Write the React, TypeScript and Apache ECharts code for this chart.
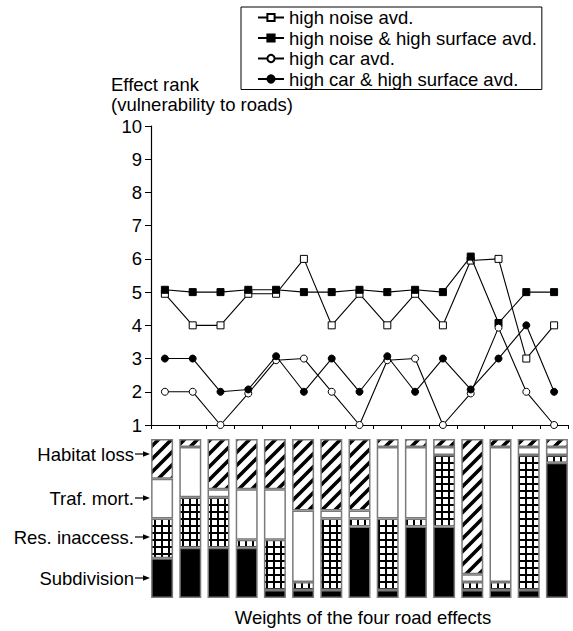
import React, { useEffect, useRef } from "react";
import * as echarts from "echarts";

// ---- data ----
const categories = ["1", "2", "3", "4", "5", "6", "7", "8", "9", "10", "11", "12", "13", "14", "15"];
const seriesNames = [
  "high noise avd.",
  "high noise & high surface avd.",
  "high car avd.",
  "high car & high surface avd.",
];
const highNoise = [4.95, 4, 4, 4.95, 4.95, 6, 4, 4.95, 4, 4.95, 4, 5.95, 6, 3, 4];
const highNoiseSurface = [5.07, 5, 5, 5.07, 5.07, 5, 5, 5.07, 5, 5.07, 5, 6.07, 4.07, 5, 5];
const highCar = [2, 2, 1, 1.95, 2.95, 3, 2, 1, 2.95, 3, 1, 1.95, 3.93, 2, 1];
const highCarSurface = [3, 3, 2, 2.07, 3.07, 2, 3, 2, 3.07, 2, 3, 2.07, 3, 4, 2];

const effectNames = ["Subdivision", "Res. inaccess.", "Traf. mort.", "Habitat loss"];
const wSubdivision = [25, 31.66, 31.66, 31.66, 5, 5, 5, 45, 5, 45, 45, 5, 5, 5, 85];
const wResInaccess = [25, 31.66, 31.66, 5, 31.66, 5, 45, 5, 45, 5, 45, 5, 5, 85, 5];
const wTrafMort = [25, 31.66, 5, 31.66, 31.66, 45, 5, 5, 45, 45, 5, 5, 85, 5, 5];
const wHabitatLoss = [25, 5, 31.66, 31.66, 31.66, 45, 45, 45, 5, 5, 5, 85, 5, 5, 5];

const yTitle = "Effect rank\n(vulnerability to roads)";
const xTitle = "Weights of the four road effects";

const FONT = '"Liberation Sans", Arial, Helvetica, sans-serif';
const FS = 18.5;

function makeHatch() {
  const s = 13;
  const c = document.createElement("canvas");
  c.width = s;
  c.height = s;
  const ctx = c.getContext("2d")!;
  ctx.fillStyle = "#fff";
  ctx.fillRect(0, 0, s, s);
  ctx.strokeStyle = "#000";
  ctx.lineWidth = 3.6;
  ctx.beginPath();
  ctx.moveTo(-1, s + 1);
  ctx.lineTo(s + 1, -1);
  ctx.moveTo(-s / 2 - 1, s / 2 + 1);
  ctx.lineTo(s / 2 + 1, -s / 2 - 1);
  ctx.moveTo(s / 2 - 1, s * 1.5 + 1);
  ctx.lineTo(s * 1.5 + 1, s / 2 - 1);
  ctx.stroke();
  return { image: c.toDataURL(), repeat: "repeat", imageWidth: s, imageHeight: s };
}

function makeGrid() {
  const s = 7;
  const c = document.createElement("canvas");
  c.width = s;
  c.height = s;
  const ctx = c.getContext("2d")!;
  ctx.fillStyle = "#fff";
  ctx.fillRect(0, 0, s, s);
  ctx.fillStyle = "#000";
  ctx.fillRect(0, 0, s, 2);
  ctx.fillRect(0, 0, 2, s);
  return { image: c.toDataURL(), repeat: "repeat", imageWidth: s, imageHeight: s };
}

export default function App() {
  const ref = useRef<HTMLDivElement>(null);

  useEffect(() => {
    if (!ref.current) return;
    const chart = echarts.init(ref.current, null, { renderer: "svg" });

    const hatch = makeHatch();
    const grid = makeGrid();

    const lineSeries = [highNoise, highNoiseSurface, highCar, highCarSurface].map((d, i) => {
      const filled = i === 1 || i === 3;
      const sym = i < 2 ? "rect" : "circle";
      return {
        name: seriesNames[i],
        type: "line",
        xAxisIndex: 0,
        yAxisIndex: 0,
        data: d,
        symbol: sym,
        symbolSize: 7,
        showAllSymbol: true,
        clip: false,
        lineStyle: { color: "#000", width: 1.1 },
        itemStyle: {
          color: filled ? "#000" : "#fff",
          borderColor: "#000",
          borderWidth: 1,
        },
        z: 3 + i,
      };
    });

    const barFills = ["#000", grid, "#fff", hatch];
    const barSeries = [wSubdivision, wResInaccess, wTrafMort, wHabitatLoss].map((d, i) => ({
      name: effectNames[i],
      type: "bar",
      xAxisIndex: 1,
      yAxisIndex: 1,
      stack: "weights",
      barWidth: 22,
      data: d,
      itemStyle: {
        color: barFills[i],
        borderColor: "#7a7a7a",
        borderWidth: 1.5,
      },
    }));

    const labelY = [454, 498, 537, 578];
    const labelOrder = [3, 2, 1, 0];
    const graphics: any[] = [
      {
        type: "text",
        x: 111,
        y: 74,
        style: {
          text: yTitle,
          font: `${FS}px ${FONT}`,
          fill: "#000",
          lineHeight: 20.5,
        },
      },
      {
        type: "text",
        x: 363,
        y: 617,
        style: {
          text: xTitle,
          font: `${FS}px ${FONT}`,
          fill: "#000",
          textAlign: "center",
          align: "center",
          textVerticalAlign: "middle",
          verticalAlign: "middle",
        },
      },
    ];
    labelOrder.forEach((k, j) => {
      const y = labelY[j];
      graphics.push({
        type: "text",
        x: 134,
        y,
        style: {
          text: effectNames[k],
          font: `${FS}px ${FONT}`,
          fill: "#000",
          textAlign: "right",
          align: "right",
          textVerticalAlign: "middle",
          verticalAlign: "middle",
        },
      });
      graphics.push({
        type: "line",
        shape: { x1: 135, y1: y, x2: 146, y2: y },
        style: { stroke: "#000", lineWidth: 1.2 },
      });
      graphics.push({
        type: "polygon",
        shape: { points: [[143, y - 2.8], [150, y], [143, y + 2.8]] },
        style: { fill: "#000" },
      });
    });

    chart.setOption({
      animation: false,
      textStyle: { fontFamily: FONT },
      legend: {
        data: seriesNames,
        orient: "vertical",
        left: 241,
        top: 7,
        itemWidth: 26,
        itemHeight: 9,
        itemGap: 1.5,
        padding: [1, 5, 1, 16],
        borderColor: "#000",
        borderWidth: 1,
        selectedMode: false,
        textStyle: { fontSize: FS, color: "#000", fontFamily: FONT, lineHeight: 18.5 },
      },
      grid: [
        { left: 151, top: 126, width: 417, height: 299 },
        { left: 148, top: 439, width: 423, height: 159 },
      ],
      xAxis: [
        {
          type: "category",
          gridIndex: 0,
          data: categories,
          boundaryGap: true,
          axisLine: { lineStyle: { color: "#000", width: 1.2 } },
          axisTick: { show: true, interval: 0, length: 4, lineStyle: { color: "#000" } },
          axisLabel: { show: false },
          splitLine: { show: false },
        },
        {
          type: "category",
          gridIndex: 1,
          data: categories,
          axisLine: { show: false },
          axisTick: { show: false },
          axisLabel: { show: false },
        },
      ],
      yAxis: [
        {
          type: "value",
          gridIndex: 0,
          min: 1,
          max: 10,
          interval: 1,
          axisLine: { show: true, lineStyle: { color: "#000", width: 1.2 } },
          axisTick: { show: true, length: 6, lineStyle: { color: "#000" } },
          axisLabel: { fontSize: FS, color: "#000", margin: 9, fontFamily: FONT, lineHeight: 16 },
          splitLine: { show: false },
        },
        {
          type: "value",
          gridIndex: 1,
          min: 0,
          max: 100,
          show: false,
          splitLine: { show: false },
        },
      ],
      graphic: graphics,
      series: [...barSeries, ...lineSeries],
    } as any);

    return () => chart.dispose();
  }, []);

  return (
    <div
      ref={ref}
      style={{ position: "fixed", left: 0, top: 0, width: 573, height: 631, background: "#fff" }}
    />
  );
}
